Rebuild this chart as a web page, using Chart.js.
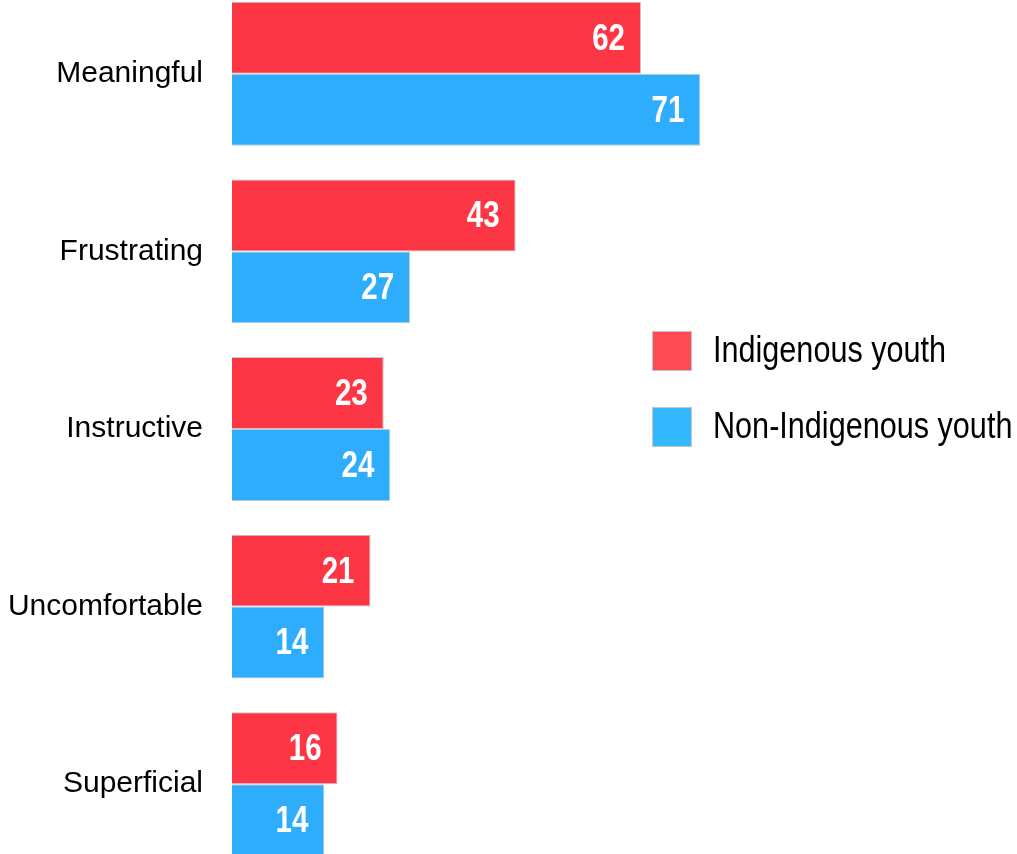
<!DOCTYPE html>
<html>
<head>
<meta charset="utf-8">
<script src="https://cdn.jsdelivr.net/npm/chart.js@4/dist/chart.umd.min.js"></script>
<style>
  html, body { margin:0; padding:0; background:#fff; overflow:hidden; width:1017px; height:854px; }
  #wrap { position:absolute; left:0; top:-15px; width:1017px; height:888px; }
</style>
</head>
<body>
<div id="wrap"><canvas id="chart"></canvas></div>
<script>
// words used to describe the experience, per group (%)
const categories = ['Meaningful', 'Frustrating', 'Instructive', 'Uncomfortable', 'Superficial'];
const indigenous = [62, 43, 23, 21, 16];
const nonIndigenous = [71, 27, 24, 14, 14];
const seriesNames = ['Indigenous youth', 'Non-Indigenous youth'];

const FONT = '"Liberation Sans", Arial, sans-serif';
const legendColors = ['#ff4a53', '#34b9fe'];

// draw text squeezed horizontally, anchored at (x, y)
function narrowText(ctx, txt, x, y, k){
  ctx.save();
  ctx.translate(x, y);
  ctx.scale(k, 1);
  ctx.fillText(txt, 0, 0);
  ctx.restore();
}

// white value labels inside the end of each bar
const valueLabels = {
  id: 'valueLabels',
  afterDatasetsDraw(chart){
    const ctx = chart.ctx;
    ctx.save();
    ctx.font = 'bold 36px ' + FONT;
    ctx.fillStyle = '#fff';
    ctx.textAlign = 'right';
    ctx.textBaseline = 'middle';
    chart.data.datasets.forEach((ds, di) => {
      chart.getDatasetMeta(di).data.forEach((bar, i) => {
        narrowText(ctx, String(ds.data[i]), bar.x - 16, bar.y + 2, 0.82);
      });
    });
    ctx.restore();
  }
};

// legend block on the right side
const sideLegend = {
  id: 'sideLegend',
  afterDraw(chart){
    const ctx = chart.ctx;
    ctx.save();
    ctx.font = '36px ' + FONT;
    ctx.textAlign = 'left';
    ctx.textBaseline = 'middle';
    chart.data.datasets.forEach((ds, di) => {
      const cy = 366 + di * 76;
      ctx.fillStyle = legendColors[di];
      ctx.fillRect(652, cy - 20, 40, 40);
      ctx.strokeStyle = '#c4c4c4';
      ctx.lineWidth = 1;
      ctx.strokeRect(652.5, cy - 19.5, 39, 39);
      ctx.fillStyle = '#000';
      narrowText(ctx, ds.label, 713, cy + 1, 0.85);
    });
    ctx.restore();
  }
};

new Chart(document.getElementById('chart').getContext('2d'), {
  type: 'bar',
  data: {
    labels: categories,
    datasets: [
      { label: seriesNames[0], data: indigenous, backgroundColor: '#fc3645', borderColor: '#c8c8c8', borderWidth: 1 },
      { label: seriesNames[1], data: nonIndigenous, backgroundColor: '#2eadfd', borderColor: '#c8c8c8', borderWidth: 1 }
    ]
  },
  options: {
    indexAxis: 'y',
    responsive: true,
    maintainAspectRatio: false,
    animation: false,
    layout: { padding: 0 },
    datasets: { bar: { categoryPercentage: 0.81, barPercentage: 1 } },
    plugins: { legend: { display: false }, tooltip: { enabled: false } },
    scales: {
      x: { display: false, min: 0, max: 119 },
      y: {
        grid: { display: false, drawTicks: false },
        border: { display: false },
        ticks: { color: '#000', padding: 29, font: { family: FONT, size: 30 } },
        afterFit(scale){
          scale.width = 232;
          scale.paddingTop = 0;
          scale.paddingBottom = 0;
        }
      }
    }
  },
  plugins: [valueLabels, sideLegend]
});
</script>
</body>
</html>
